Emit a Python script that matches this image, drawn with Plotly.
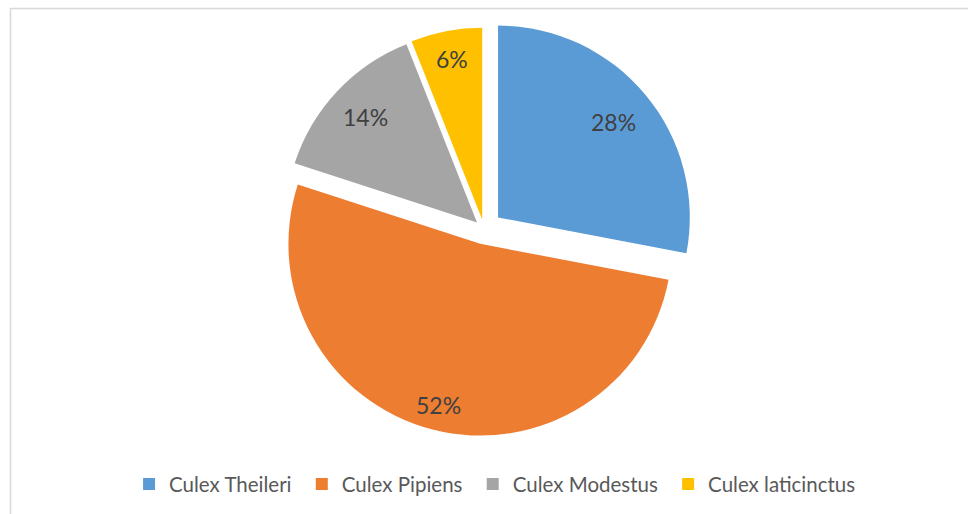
import math
import plotly.graph_objects as go

# Species share of collected Culex mosquitoes
species = ["Culex Theileri", "Culex Pipiens", "Culex Modestus", "Culex laticinctus"]
shares = [28, 52, 14, 6]
colors = ["#5B9BD5", "#ED7D31", "#A5A5A5", "#FFC000"]
pulls = [0.095, 0.08, 0.05, 0.05]
# radial position of each percentage label, as a fraction of the radius
label_radius = [0.78, 0.87, 0.80, 0.85]

W, H = 968, 514
dom_x = [0.19, 0.81]
dom_y = [0.146, 0.963]

# a trailing no-break space widens the gap between legend entries
legend_names = [s + "\u00a0" for s in species]

fig = go.Figure(
    go.Pie(
        labels=legend_names,
        values=shares,
        sort=False,
        direction="clockwise",
        rotation=0,
        pull=pulls,
        marker=dict(colors=colors, line=dict(width=0)),
        textinfo="none",
        hovertemplate="%{customdata}: %{percent}<extra></extra>",
        customdata=species,
        domain=dict(x=dom_x, y=dom_y),
    )
)

# Pie geometry (same rules plotly uses) to place the percentage labels
box_w = W * (dom_x[1] - dom_x[0])
box_h = H * (dom_y[1] - dom_y[0])
r = min(box_w, box_h) / (2 + 2 * max(pulls))
cx = W * (dom_x[0] + dom_x[1]) / 2
cy = H * (1 - (dom_y[0] + dom_y[1]) / 2)

total = sum(shares)
start = 0.0
for v, p, k in zip(shares, pulls, label_radius):
    mid = (start + v / 2) / total
    theta = 2 * math.pi * mid
    dx, dy = math.sin(theta), -math.cos(theta)
    dist = (p + k) * r
    px, py = cx + dist * dx, cy + dist * dy
    fig.add_annotation(
        x=px / W, y=1 - py / H, xref="paper", yref="paper",
        xanchor="center", yanchor="middle",
        text=f"{round(100 * v / total)}%", showarrow=False,
        font=dict(family="Lato", size=23, color="#404040"),
    )
    start += v

# Chart area frame
fig.add_shape(
    type="rect", xref="paper", yref="paper",
    x0=10.5 / W, x1=1.05, y0=-0.05, y1=1 - 8.5 / H,
    line=dict(color="#D9D9D9", width=1.5), fillcolor="rgba(0,0,0,0)",
)

fig.update_layout(
    width=W, height=H,
    margin=dict(l=0, r=0, t=0, b=0),
    paper_bgcolor="white",
    plot_bgcolor="white",
    font=dict(family="Lato", color="#595959"),
    showlegend=True,
    legend=dict(
        orientation="h",
        x=0.514, xanchor="center",
        y=0.058, yanchor="middle",
        font=dict(family="Lato", size=20.5, color="#595959"),
        itemwidth=30,
        bgcolor="rgba(0,0,0,0)",
    ),
)

fig.write_html("out.html")
